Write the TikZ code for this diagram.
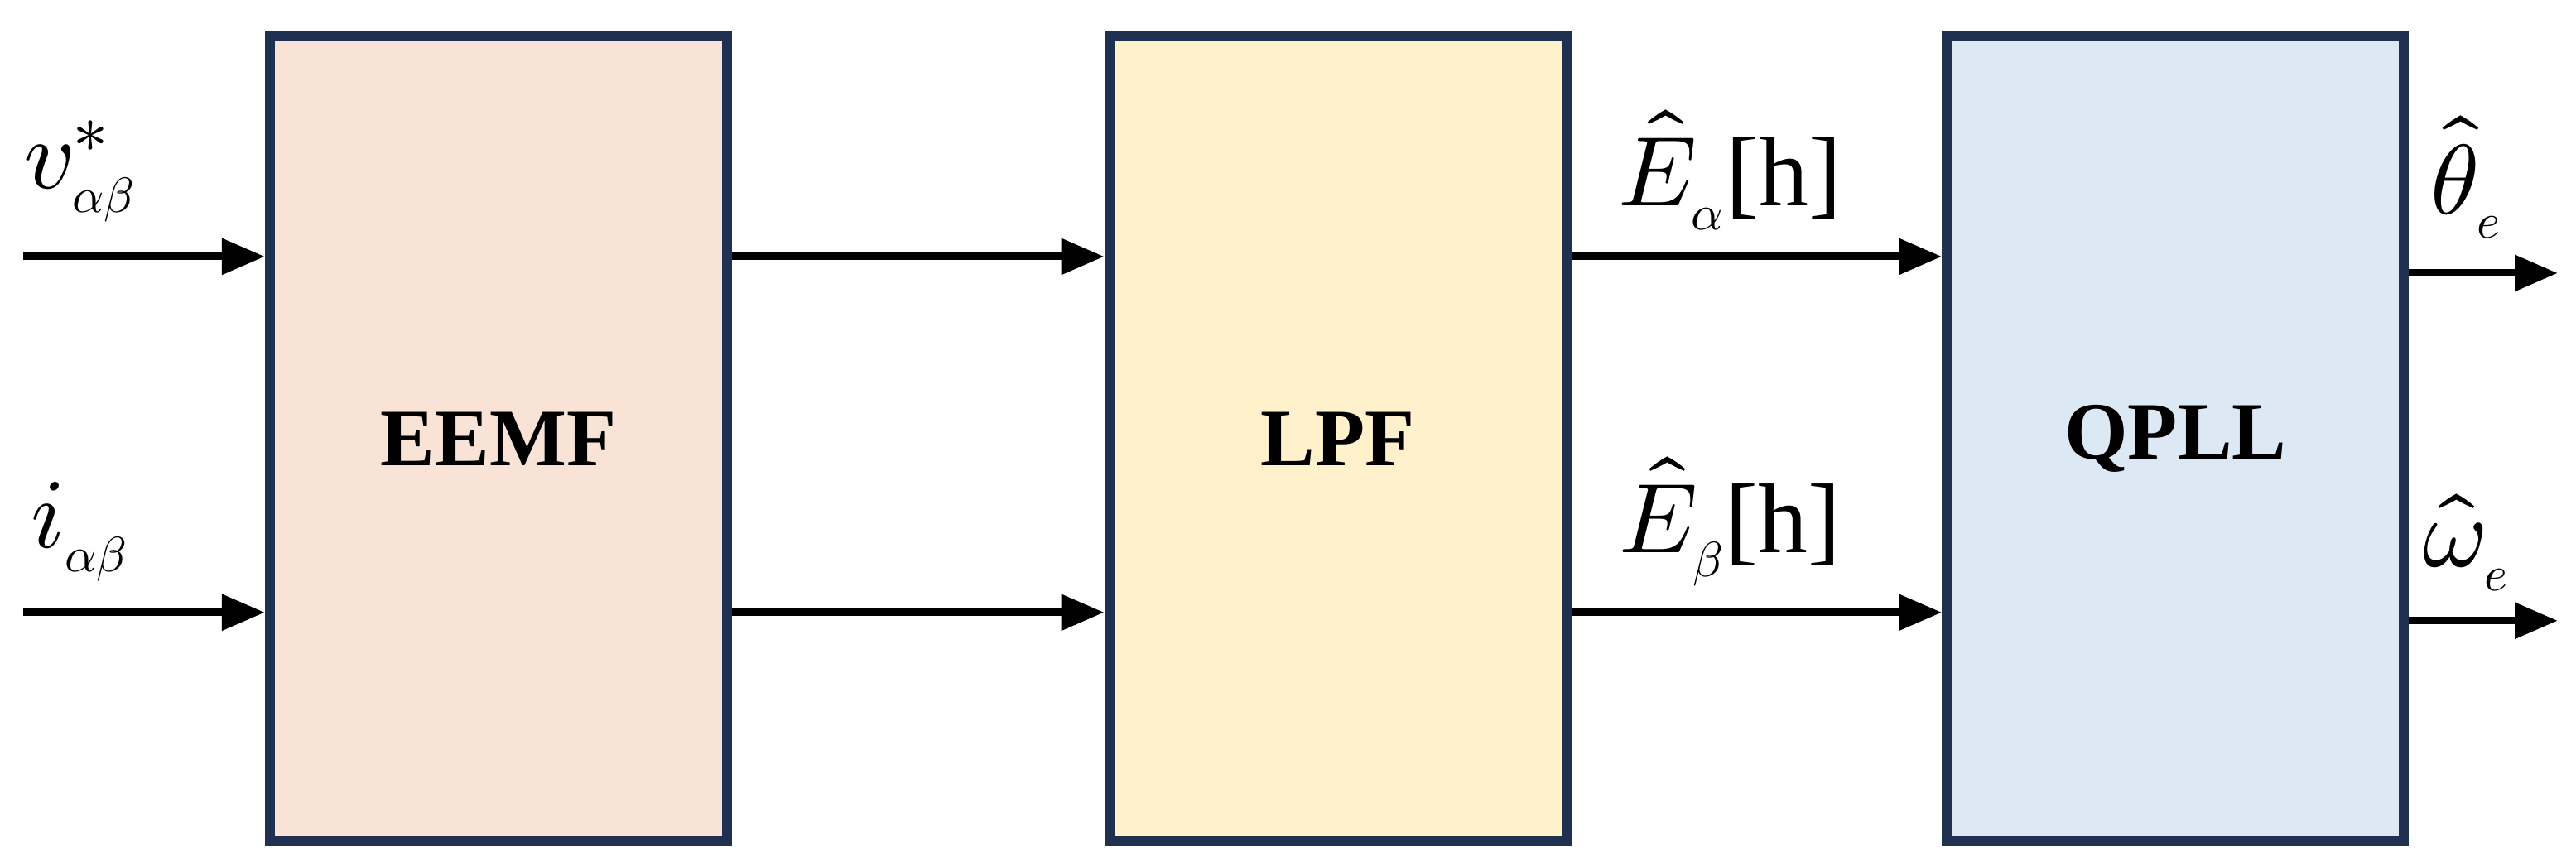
\documentclass[tikz,border=0pt]{standalone}
\usepackage{fontspec}
\setmainfont{Liberation Serif}
\usepackage{unicode-math}
\setmathfont{Latin Modern Math}
\usetikzlibrary{arrows.meta}
\begin{document}
\begin{tikzpicture}[x=0.01cm,y=-0.01cm,
  blk/.style={draw=blockborder,line width=1.7pt,minimum width=2.76cm,minimum height=4.86cm,anchor=north west,inner sep=0,font=\fontsize{14}{16}\selectfont\bfseries},
  sig/.style={line width=1.3pt,-{Triangle[length=2.6mm,width=2.1mm]}},
  lab/.style={font=\fontsize{17}{20}\selectfont,inner sep=0}]
\definecolor{blockborder}{HTML}{1F3050}
\definecolor{c1}{HTML}{F9E3D6}
\definecolor{c2}{HTML}{FFF1CC}
\definecolor{c3}{HTML}{DDE8F5}
\useasboundingbox (0,0) rectangle (1556,514);
\node[blk,fill=c1] (eemf) at (160,19) {EEMF};
\node[blk,fill=c2] (lpf) at (667,19) {LPF};
\node[blk,fill=c3] (qpll) at (1173,19) {QPLL};
\coordinate (in1) at (14,155);
\coordinate (in2) at (14,370);
\coordinate (o1) at (1545,165);
\coordinate (o2) at (1545,375);
\draw[sig] (in1) -- (in1 -| eemf.west);
\draw[sig] (in2) -- (in2 -| eemf.west);
\draw[sig] (eemf.east |- in1) -- (lpf.west |- in1);
\draw[sig] (eemf.east |- in2) -- (lpf.west |- in2);
\draw[sig] (lpf.east |- in1) -- (qpll.west |- in1);
\draw[sig] (lpf.east |- in2) -- (qpll.west |- in2);
\draw[sig] (qpll.east |- o1) -- (o1);
\draw[sig] (qpll.east |- o2) -- (o2);
\node[lab,anchor=south west] (lv) at (14,135) {$v^{*}_{\scriptscriptstyle\alpha\beta}$};
\node[lab,anchor=south west] (li) at (18,352) {$i_{\scriptscriptstyle\alpha\beta}$};
\node[lab,anchor=south] (la) at (1045,140) {$\hat{E}_{\scriptscriptstyle\alpha}$[h]};
\node[lab,anchor=south] (lb) at (1045,355) {$\hat{E}_{\scriptscriptstyle\beta}$[h]};
\node[lab,anchor=south] (lt) at (1490,145) {$\hat{\theta}_{\scriptscriptstyle e}$};
\node[lab,anchor=south] (lw) at (1490,358) {$\hat{\omega}_{\scriptscriptstyle e}$};
\end{tikzpicture}
\end{document}
